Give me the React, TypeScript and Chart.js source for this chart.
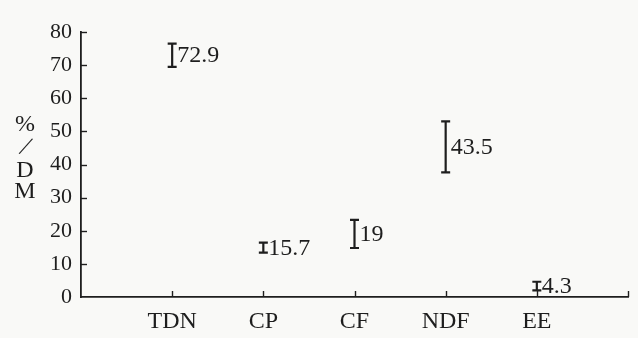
import React, { useEffect, useRef } from 'react';
import { Chart, registerables } from 'chart.js';

Chart.register(...registerables);

const categories = ['TDN', 'CP', 'CF', 'NDF', 'EE'];
const means = [72.9, 15.7, 19, 43.5, 4.3];
const errLow = [69.5, 13.4, 14.8, 37.6, 2.0];
const errHigh = [76.5, 16.4, 23.3, 53.0, 4.6];
const yTitleChars = ['%', '/', 'D', 'M'];

const FONT = '"Liberation Serif", "Times New Roman", serif';
const INK = '#1e1e1e';

export default function App() {
  const ref = useRef<HTMLCanvasElement>(null);

  useEffect(() => {
    const canvas = ref.current!;
    const plugin = {
      id: 'errorBarsAndDecor',
      beforeDraw(chart: any) {
        const c = chart.ctx;
        c.save();
        c.fillStyle = '#f9f9f7';
        c.fillRect(0, 0, chart.width, chart.height);
        c.restore();
      },
      afterDraw(chart: any) {
        const c = chart.ctx as CanvasRenderingContext2D;
        const { x, y } = chart.scales;
        const area = chart.chartArea;
        c.save();
        c.strokeStyle = INK;
        c.fillStyle = INK;
        c.lineWidth = 1.4;
        // inward tick marks
        y.ticks.forEach((t: any) => {
          if (t.value === 0) return;
          const py = Math.round(y.getPixelForValue(t.value)) + 0.5;
          c.beginPath();
          c.moveTo(area.left, py);
          c.lineTo(area.left + 6, py);
          c.stroke();
        });
        x.ticks.forEach((t: any) => {
          if (t.value === 0) return;
          const px = Math.round(x.getPixelForValue(t.value)) + 0.5;
          c.beginPath();
          c.moveTo(px, area.bottom);
          c.lineTo(px, area.bottom - 6);
          c.stroke();
        });
        // error bars
        c.lineWidth = 2.2;
        c.font = `24px ${FONT}`;
        c.textBaseline = 'middle';
        c.textAlign = 'left';
        categories.forEach((_, i) => {
          const px = x.getPixelForValue(i + 1);
          const yl = y.getPixelForValue(errLow[i]);
          const yh = y.getPixelForValue(errHigh[i]);
          c.beginPath();
          c.moveTo(px, yl);
          c.lineTo(px, yh);
          c.moveTo(px - 4.5, yl);
          c.lineTo(px + 4.5, yl);
          c.moveTo(px - 4.5, yh);
          c.lineTo(px + 4.5, yh);
          c.stroke();
          c.fillText(String(means[i]), px + 5, (yl + yh) / 2 + 1);
        });
        // y title stacked
        c.font = `24px ${FONT}`;
        c.textAlign = 'center';
        const tx = 25;
        const ys = [125, 148, 171, 192];
        yTitleChars.forEach((ch, i) => {
          if (ch === '/') {
            c.save();
            c.translate(tx, ys[i]);
            c.rotate(0.45);
            c.scale(1, 1.2);
            c.fillText(ch, 0, 0);
            c.restore();
          } else {
            c.fillText(ch, tx, ys[i]);
          }
        });
        c.restore();
      },
    };

    const chart = new Chart(canvas, {
      type: 'scatter',
      data: {
        datasets: [
          {
            data: means.map((m, i) => ({ x: i + 1, y: m })),
            pointRadius: 0,
            showLine: false,
          },
        ],
      },
      options: {
        responsive: false,
        animation: false,
        layout: { padding: { left: 0, right: 7, top: 32, bottom: 0 } },
        plugins: { legend: { display: false }, tooltip: { enabled: false } },
        scales: {
          x: {
            type: 'linear',
            min: 0,
            max: 6,
            afterFit: (s: any) => {
              s.height = 41;
            },
            afterBuildTicks: (s: any) => {
              s.ticks = [0, 1, 2, 3, 4, 5, 6].map((v) => ({ value: v }));
            },
            ticks: {
              stepSize: 1,
              padding: 10,
              color: INK,
              font: { family: FONT, size: 24 },
              callback: (v: any) => categories[Number(v) - 1] ?? '',
              maxRotation: 0,
              autoSkip: false,
            },
            grid: { drawOnChartArea: false, drawTicks: false },
            border: { display: true, color: INK, width: 1.8 },
          },
          y: {
            min: 0,
            max: 80,
            afterFit: (s: any) => {
              s.width = 81;
            },
            ticks: {
              stepSize: 10,
              padding: 9,
              color: INK,
              font: { family: FONT, size: 22 },
            },
            grid: { drawOnChartArea: false, drawTicks: false },
            border: { display: true, color: INK, width: 1.8 },
          },
        },
      },
      plugins: [plugin],
    });
    return () => chart.destroy();
  }, []);

  return (
    <div style={{ position: 'absolute', left: 0, top: 0, width: 638, height: 338 }}>
      <canvas ref={ref} width={638} height={338} />
    </div>
  );
}
